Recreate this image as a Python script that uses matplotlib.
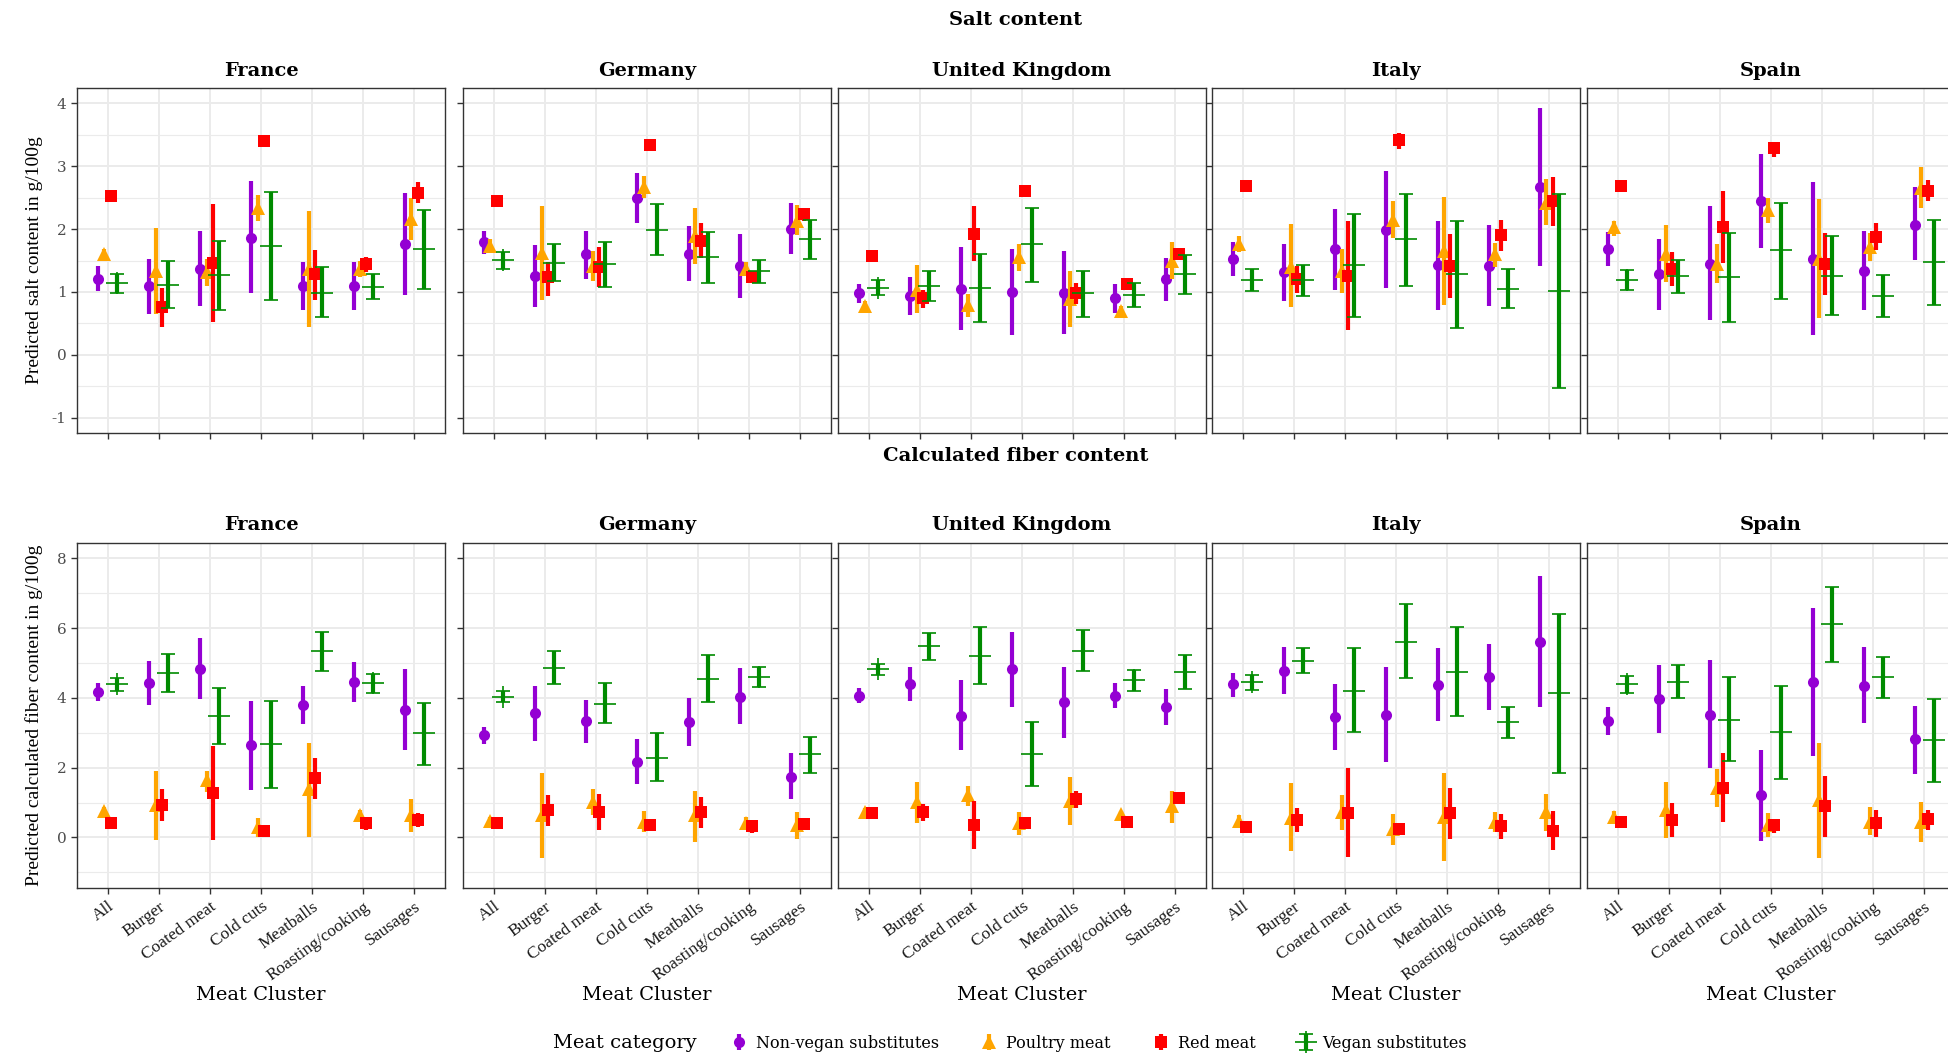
import numpy as np
import matplotlib
matplotlib.use("Agg")
import matplotlib.pyplot as plt

plt.rcParams['font.family'] = 'DejaVu Serif'
plt.rcParams['axes.unicode_minus'] = False

countries = ["France", "Germany", "United Kingdom", "Italy", "Spain"]
clusters = ["All", "Burger", "Coated meat", "Cold cuts", "Meatballs",
            "Roasting/cooking", "Sausages"]
categories = ["Non-vegan substitutes", "Poultry meat", "Red meat", "Vegan substitutes"]
colors = ["#9400D3", "#FFA500", "#FF0000", "#008B00"]

# rows: non-vegan, poultry, red, vegan ; columns: clusters
salt_mean = {
    "France": [[1.21, 1.09, 1.37, 1.86, 1.10, 1.10, 1.77],
               [1.61, 1.34, 1.32, 2.34, 1.36, 1.36, 2.16],
               [2.53, 0.76, 1.46, 3.40, 1.28, 1.44, 2.58],
               [1.14, 1.11, 1.27, 1.73, 0.99, 1.08, 1.68]],
    "Germany": [[1.79, 1.25, 1.60, 2.49, 1.61, 1.41, 2.00],
                [1.73, 1.62, 1.42, 2.66, 1.89, 1.36, 2.13],
                [2.45, 1.23, 1.40, 3.33, 1.81, 1.24, 2.24],
                [1.51, 1.46, 1.44, 1.99, 1.56, 1.33, 1.84]],
    "United Kingdom": [[0.99, 0.94, 1.05, 1.00, 0.99, 0.90, 1.20],
                       [0.78, 1.03, 0.79, 1.55, 0.89, 0.70, 1.49],
                       [1.57, 0.90, 1.92, 2.60, 0.98, 1.13, 1.61],
                       [1.07, 1.09, 1.06, 1.76, 0.98, 0.95, 1.28]],
    "Italy": [[1.53, 1.31, 1.68, 1.98, 1.43, 1.42, 2.67],
              [1.76, 1.40, 1.34, 2.15, 1.65, 1.60, 2.42],
              [2.68, 1.20, 1.26, 3.42, 1.42, 1.90, 2.45],
              [1.19, 1.19, 1.43, 1.84, 1.28, 1.05, 1.02]],
    "Spain": [[1.69, 1.28, 1.44, 2.45, 1.53, 1.34, 2.07],
              [2.04, 1.61, 1.45, 2.30, 1.53, 1.72, 2.65],
              [2.68, 1.37, 2.04, 3.28, 1.45, 1.88, 2.61],
              [1.19, 1.25, 1.23, 1.66, 1.26, 0.94, 1.48]],
}
salt_lo = {
    "France": [[1.01, 0.65, 0.77, 0.98, 0.72, 0.71, 0.95],
               [1.52, 0.65, 1.10, 2.13, 0.44, 1.23, 1.82],
               [2.50, 0.45, 0.53, 3.30, 0.87, 1.31, 2.41],
               [0.99, 0.74, 0.71, 0.87, 0.60, 0.89, 1.05]],
    "Germany": [[1.60, 0.76, 1.20, 2.10, 1.18, 0.91, 1.60],
                [1.64, 0.88, 1.18, 2.50, 1.44, 1.26, 1.90],
                [2.42, 0.94, 1.08, 3.30, 1.54, 1.15, 2.12],
                [1.37, 1.17, 1.08, 1.58, 1.15, 1.15, 1.52]],
    "United Kingdom": [[0.83, 0.63, 0.39, 0.31, 0.33, 0.66, 0.86],
                       [0.73, 0.67, 0.60, 1.33, 0.45, 0.63, 1.20],
                       [1.55, 0.74, 1.49, 2.55, 0.81, 1.10, 1.57],
                       [0.95, 0.85, 0.52, 1.16, 0.60, 0.76, 0.97]],
    "Italy": [[1.26, 0.85, 1.03, 1.06, 0.72, 0.77, 1.42],
              [1.63, 0.76, 0.99, 1.85, 0.80, 1.40, 2.07],
              [2.63, 0.98, 0.40, 3.27, 0.91, 1.65, 2.05],
              [1.01, 0.93, 0.60, 1.10, 0.42, 0.74, -0.53]],
    "Spain": [[1.41, 0.72, 0.55, 1.70, 0.31, 0.71, 1.51],
              [1.89, 1.16, 1.15, 2.09, 0.59, 1.49, 2.33],
              [2.63, 1.09, 1.46, 3.15, 0.95, 1.67, 2.45],
              [1.03, 0.99, 0.53, 0.89, 0.63, 0.60, 0.79]],
}
salt_hi = {
    "France": [[1.41, 1.53, 1.97, 2.76, 1.48, 1.48, 2.58],
               [1.69, 2.01, 1.52, 2.54, 2.29, 1.49, 2.50],
               [2.56, 1.07, 2.39, 3.49, 1.67, 1.56, 2.74],
               [1.29, 1.49, 1.81, 2.59, 1.39, 1.28, 2.30]],
    "Germany": [[1.97, 1.74, 1.97, 2.89, 2.05, 1.92, 2.41],
                [1.84, 2.37, 1.65, 2.85, 2.33, 1.47, 2.38],
                [2.48, 1.48, 1.72, 3.36, 2.09, 1.34, 2.33],
                [1.63, 1.76, 1.80, 2.39, 1.96, 1.51, 2.15]],
    "United Kingdom": [[1.12, 1.24, 1.71, 1.69, 1.65, 1.12, 1.54],
                       [0.85, 1.43, 0.96, 1.77, 1.33, 0.77, 1.79],
                       [1.59, 1.03, 2.36, 2.65, 1.15, 1.16, 1.65],
                       [1.19, 1.34, 1.60, 2.34, 1.34, 1.15, 1.59]],
    "Italy": [[1.80, 1.76, 2.32, 2.92, 2.13, 2.06, 3.93],
              [1.89, 2.08, 1.68, 2.44, 2.51, 1.78, 2.79],
              [2.73, 1.42, 2.12, 3.53, 1.92, 2.14, 2.82],
              [1.36, 1.43, 2.24, 2.56, 2.13, 1.36, 2.56]],
    "Spain": [[1.96, 1.84, 2.36, 3.19, 2.75, 1.97, 2.66],
              [2.12, 2.07, 1.77, 2.50, 2.47, 1.94, 2.99],
              [2.73, 1.64, 2.60, 3.39, 1.94, 2.09, 2.78],
              [1.35, 1.51, 1.93, 2.42, 1.89, 1.27, 2.15]],
}

fiber_mean = {
    "France": [[4.16, 4.42, 4.82, 2.65, 3.80, 4.46, 3.65],
               [0.76, 0.93, 1.64, 0.29, 1.38, 0.64, 0.64],
               [0.40, 0.93, 1.26, 0.18, 1.69, 0.40, 0.50],
               [4.39, 4.70, 3.48, 2.68, 5.33, 4.42, 2.98]],
    "Germany": [[2.94, 3.56, 3.35, 2.17, 3.32, 4.03, 1.74],
                [0.48, 0.64, 1.02, 0.45, 0.64, 0.40, 0.35],
                [0.40, 0.78, 0.74, 0.37, 0.74, 0.33, 0.38],
                [4.03, 4.87, 3.82, 2.29, 4.54, 4.61, 2.38]],
    "United Kingdom": [[4.06, 4.39, 3.49, 4.82, 3.87, 4.05, 3.73],
                       [0.74, 1.02, 1.21, 0.40, 1.05, 0.67, 0.90],
                       [0.69, 0.74, 0.37, 0.42, 1.10, 0.45, 1.12],
                       [4.82, 5.50, 5.21, 2.39, 5.35, 4.51, 4.75]],
    "Italy": [[4.39, 4.78, 3.44, 3.51, 4.37, 4.59, 5.61],
              [0.47, 0.57, 0.74, 0.23, 0.59, 0.45, 0.72],
              [0.31, 0.50, 0.69, 0.23, 0.71, 0.33, 0.18],
              [4.45, 5.06, 4.21, 5.61, 4.75, 3.30, 4.13]],
    "Spain": [[3.35, 3.96, 3.51, 1.21, 4.46, 4.35, 2.81],
              [0.59, 0.78, 1.43, 0.35, 1.07, 0.45, 0.45],
              [0.45, 0.50, 1.43, 0.35, 0.90, 0.42, 0.52],
              [4.39, 4.46, 3.38, 3.03, 6.11, 4.59, 2.79]],
}
fiber_lo = {
    "France": [[3.91, 3.80, 3.96, 1.36, 3.25, 3.89, 2.52],
               [0.66, -0.06, 1.30, 0.00, 0.02, 0.47, 0.16],
               [0.37, 0.48, -0.08, 0.04, 1.09, 0.21, 0.29],
               [4.21, 4.17, 2.68, 1.43, 4.77, 4.13, 2.07]],
    "Germany": [[2.67, 2.77, 2.72, 1.53, 2.63, 3.24, 1.09],
                [0.38, -0.58, 0.64, 0.16, -0.12, 0.21, -0.05],
                [0.37, 0.33, 0.21, 0.24, 0.26, 0.14, 0.21],
                [3.89, 4.39, 3.27, 1.63, 3.88, 4.30, 1.86]],
    "United Kingdom": [[3.86, 3.91, 2.50, 3.75, 2.86, 3.70, 3.22],
                       [0.64, 0.40, 0.91, 0.07, 0.35, 0.57, 0.42],
                       [0.66, 0.48, -0.32, 0.35, 0.83, 0.38, 1.03],
                       [4.66, 5.09, 4.39, 1.48, 4.78, 4.21, 4.25]],
    "Italy": [[4.03, 4.10, 2.52, 2.17, 3.34, 3.65, 3.75],
              [0.33, -0.39, 0.21, -0.22, -0.68, 0.16, 0.18],
              [0.26, 0.16, -0.57, 0.07, -0.05, -0.05, -0.36],
              [4.23, 4.70, 3.03, 4.56, 3.49, 2.86, 1.85]],
    "Spain": [[2.94, 3.00, 1.98, -0.10, 2.34, 3.27, 1.81],
              [0.42, -0.03, 0.88, 0.00, -0.60, 0.07, -0.12],
              [0.40, 0.02, 0.43, 0.14, 0.02, 0.02, 0.21],
              [4.13, 3.99, 2.19, 1.68, 5.02, 4.01, 1.59]],
}
fiber_hi = {
    "France": [[4.42, 5.06, 5.71, 3.91, 4.35, 5.02, 4.82],
               [0.86, 1.91, 1.91, 0.56, 2.72, 0.80, 1.09],
               [0.43, 1.38, 2.62, 0.33, 2.27, 0.59, 0.71],
               [4.56, 5.25, 4.27, 3.90, 5.90, 4.68, 3.86]],
    "Germany": [[3.17, 4.34, 3.94, 2.81, 4.01, 4.87, 2.41],
                [0.59, 1.84, 1.40, 0.76, 1.33, 0.59, 0.74],
                [0.43, 1.21, 1.24, 0.50, 1.17, 0.50, 0.56],
                [4.20, 5.34, 4.42, 2.98, 5.23, 4.89, 2.89]],
    "United Kingdom": [[4.27, 4.88, 4.51, 5.88, 4.89, 4.42, 4.25],
                       [0.83, 1.58, 1.48, 0.74, 1.74, 0.76, 1.34],
                       [0.72, 0.96, 1.05, 0.49, 1.34, 0.52, 1.21],
                       [4.96, 5.87, 6.04, 3.32, 5.95, 4.80, 5.23]],
    "Italy": [[4.72, 5.45, 4.40, 4.89, 5.42, 5.54, 7.48],
              [0.64, 1.55, 1.23, 0.66, 1.84, 0.72, 1.24],
              [0.36, 0.83, 1.98, 0.42, 1.43, 0.67, 0.76],
              [4.67, 5.44, 5.42, 6.68, 6.02, 3.73, 6.40]],
    "Spain": [[3.73, 4.94, 5.09, 2.52, 6.59, 5.47, 3.78],
              [0.76, 1.60, 1.95, 0.69, 2.72, 0.86, 1.02],
              [0.50, 0.98, 2.41, 0.54, 1.76, 0.78, 0.80],
              [4.64, 4.94, 4.61, 4.35, 7.17, 5.18, 3.96]],
}

markers = ["o", "^", "s", "+"]
marker_sizes = [8, 9.5, 9, 16]
dodge = [-0.1875, -0.0625, 0.0625, 0.1875]
grid_color = "#EBEBEB"


def draw_panel(ax, mean, lo, hi):
    x_base = np.arange(len(clusters)) + 1
    for k, name in enumerate(categories):
        m = np.array(mean[k])
        yerr = [m - np.array(lo[k]), np.array(hi[k]) - m]
        ax.errorbar(x_base + dodge[k], m, yerr=yerr, fmt=markers[k],
                    color=colors[k], ms=marker_sizes[k], mew=1.2 if k == 3 else 0,
                    elinewidth=3.0, capsize=5, capthick=3.0, label=name,
                    zorder=3 + k)
    ax.set_xlim(0.4, len(clusters) + 0.6)
    ax.set_xticks(x_base)
    ax.grid(which="major", color=grid_color, lw=1.4)
    ax.grid(which="minor", axis="y", color=grid_color, lw=0.8)
    ax.set_axisbelow(True)
    for s in ax.spines.values():
        s.set_color("#333333")
        s.set_linewidth(1.0)
    ax.tick_params(which="major", length=4, width=1, color="#333333",
                   labelcolor="#4D4D4D", labelsize=11)
    ax.tick_params(which="minor", length=0)


fig = plt.figure(figsize=(19.48, 10.53), dpi=100)
W, H = 1948.0, 1053.0
lefts = [77, 463, 838, 1212, 1587]
width = 368

rows = [
    (88, salt_mean, salt_lo, salt_hi, (-1.24, 4.24), [-1, 0, 1, 2, 3, 4],
     np.arange(-0.5, 4.0, 1.0), "Predicted salt content in g/100g"),
    (543, fiber_mean, fiber_lo, fiber_hi, (-1.45, 8.44), [0, 2, 4, 6, 8],
     [-1, 1, 3, 5, 7], "Predicted calculated fiber content in g/100g"),
]

first_ax = None
for r, (top, mean_d, lo_d, hi_d, ylim, yticks, yminor, ylabel) in enumerate(rows):
    height = 345
    for c, country in enumerate(countries):
        ax = fig.add_axes([lefts[c] / W, 1 - (top + height) / H, width / W, height / H])
        draw_panel(ax, mean_d[country], lo_d[country], hi_d[country])
        ax.set_ylim(*ylim)
        ax.set_yticks(yticks)
        ax.set_yticks(yminor, minor=True)
        ax.set_title(country, fontsize=14, fontweight="bold", pad=9)
        if c > 0:
            ax.tick_params(labelleft=False)
        else:
            ax.set_ylabel(ylabel, family="Liberation Serif", fontsize=14)
            ax.yaxis.set_label_coords(-0.093, 0.5)
        if r == 0:
            ax.tick_params(labelbottom=False)
        else:
            ax.set_xticklabels(clusters, rotation=36, ha="right", va="top",
                               rotation_mode="anchor", fontsize=12.5,
                               family="Liberation Serif", color="#1A1A1A")
            ax.set_xlabel("Meat Cluster", fontsize=14, va="top")
            ax.xaxis.set_label_coords(0.5, -0.285)
        if first_ax is None:
            first_ax = ax

fig.text(1016 / W, 1 - 20 / H, "Salt content", ha="center", va="center",
         fontsize=14, fontweight="bold")
fig.text(1016 / W, 1 - 456 / H, "Calculated fiber content", ha="center",
         va="center", fontsize=14, fontweight="bold")

# legend along the bottom
fig.text(553 / W, 1 - 1043 / H, "Meat category", ha="left", va="center",
         fontsize=14)
handles, labels = first_ax.get_legend_handles_labels()
fig.legend(handles, labels, loc="center", bbox_to_anchor=(1098 / W, 1 - 1043 / H),
           ncol=4, frameon=False, fontsize=11.5, handlelength=1.3,
           handletextpad=0.4, columnspacing=2.5, borderaxespad=0)

fig.savefig("out.png", dpi=100)
